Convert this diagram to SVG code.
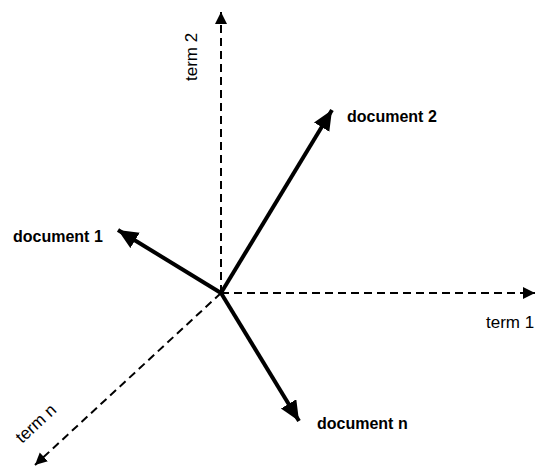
<svg xmlns="http://www.w3.org/2000/svg" width="539" height="472" viewBox="0 0 539 472">
<style>
.axis{stroke:#000;stroke-width:2;stroke-dasharray:8 5;fill:none}
.vec{stroke:#000;stroke-width:4;fill:none}
.lbl{font-family:"Liberation Sans",Arial,sans-serif;font-size:16px;font-weight:bold;fill:#000}
.term{font-family:"Liberation Sans",Arial,sans-serif;font-size:17px;fill:#000}
</style>
<defs>
<marker id="ah" markerUnits="userSpaceOnUse" markerWidth="14" markerHeight="14" refX="12" refY="6" orient="auto">
<path d="M0,0 L12,6 L0,12 Z" fill="#000"/>
</marker>
<marker id="vh" markerUnits="userSpaceOnUse" markerWidth="22" markerHeight="20" refX="20" refY="9" orient="auto">
<path d="M0,0 L20,9 L0,18 Z" fill="#000"/>
</marker>
</defs>
<g id="connectors">
<line class="axis" x1="221" y1="293" x2="221" y2="12" marker-end="url(#ah)"/>
<line class="axis" x1="221" y1="293" x2="535" y2="293" marker-end="url(#ah)"/>
<line class="axis" x1="221" y1="293" x2="35" y2="465" marker-end="url(#ah)"/>
<line class="vec" x1="221" y1="293" x2="332" y2="110" marker-end="url(#vh)"/>
<line class="vec" x1="221" y1="293" x2="118" y2="230" marker-end="url(#vh)"/>
<line class="vec" x1="221" y1="293" x2="299" y2="421" marker-end="url(#vh)"/>
</g>
<g id="term2"><text class="term" transform="translate(197,81) rotate(-90)">term 2</text></g>
<g id="term1"><text class="term" x="486" y="328">term 1</text></g>
<g id="termn"><text class="term" transform="translate(22,444) rotate(-42.6)">term n</text></g>
<g id="doc2"><text class="lbl" x="347" y="122">document 2</text></g>
<g id="doc1"><text class="lbl" x="13" y="242">document 1</text></g>
<g id="docn"><text class="lbl" x="317" y="429">document n</text></g>
</svg>
